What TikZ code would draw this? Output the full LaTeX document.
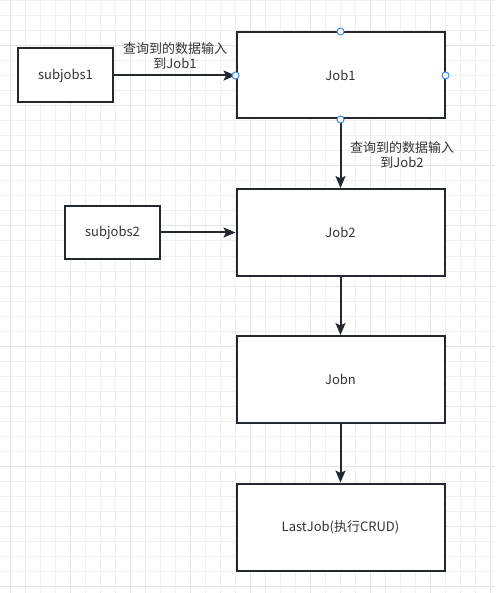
\documentclass[tikz,border=0pt]{standalone}
\usepackage{fontspec}
\setmainfont{Noto Sans CJK SC}
\usetikzlibrary{arrows.meta}

\definecolor{rand}{HTML}{23282E}
\definecolor{tekst}{HTML}{333333}
\definecolor{rooster}{HTML}{F0F0F0}
\definecolor{roosterdonker}{HTML}{E4E4E4}
\definecolor{greep}{HTML}{3D8BF0}

\tikzset{
  blok/.style={draw=rand, line width=2pt, fill=white, text=tekst,
    font=\fontsize{13}{15}\selectfont, inner sep=0pt},
  pijl/.style={draw=rand, line width=2pt, -{Stealth[length=12pt, width=10pt, inset=2.5pt]}},
  uitleg/.style={text=tekst, align=center, font=\fontsize{13}{15}\selectfont, inner sep=0pt},
  handvat/.style={draw=greep, fill=white, line width=1pt}
}

\begin{document}
\begin{tikzpicture}[x=1pt, y=-1pt]
  \useasboundingbox (0,0) rectangle (495,593);
  \fill[white] (0,0) rectangle (495,593);

  % Rooster
  \foreach \x in {10,25,...,490}
    \draw[rooster, line width=1pt] (\x,0) -- (\x,593);
  \foreach \y in {1,16,...,586}
    \draw[rooster, line width=1pt] (0,\y) -- (495,\y);
  \foreach \x in {10,70,...,490}
    \draw[roosterdonker, line width=1pt] (\x,0) -- (\x,593);
  \foreach \y in {46,106,...,586}
    \draw[roosterdonker, line width=1pt] (0,\y) -- (495,\y);

  % Blokken
  \node[blok, minimum width=95pt, minimum height=54pt] (sub1) at (65.5,75.5) {subjobs1};
  \node[blok, minimum width=208pt, minimum height=86pt] (job1) at (340.5,75.5) {Job1};
  \node[blok, minimum width=95pt, minimum height=53pt] (sub2) at (112.5,232.5) {subjobs2};
  \node[blok, minimum width=208pt, minimum height=87pt] (job2) at (340.5,232.5) {Job2};
  \node[blok, minimum width=208pt, minimum height=87pt] (jobn) at (340.5,379.5) {Jobn};
  \node[blok, minimum width=208pt, minimum height=87pt] (last) at (340.5,527) {LastJob(执行CRUD)};

  % Pijlen
  \draw[pijl] (sub1.east) -- (job1.west);
  \draw[pijl] (job1.south) -- (job2.north);
  \draw[pijl] (sub2.east) -- (job2.west);
  \draw[pijl] (job2.south) -- (jobn.north);
  \draw[pijl] (jobn.south) -- (last.north);

  % Labels bij de pijlen
  \node[uitleg] (lab1) at (175,56) {查询到的数据输入\\到Job1};
  \node[uitleg] (lab2) at (402,155) {查询到的数据输入\\到Job2};

  % Handvatten van de selectie
  \foreach \k in {north,south,east,west}
    \draw[handvat] (job1.\k) circle (3.5pt);
\end{tikzpicture}
\end{document}
